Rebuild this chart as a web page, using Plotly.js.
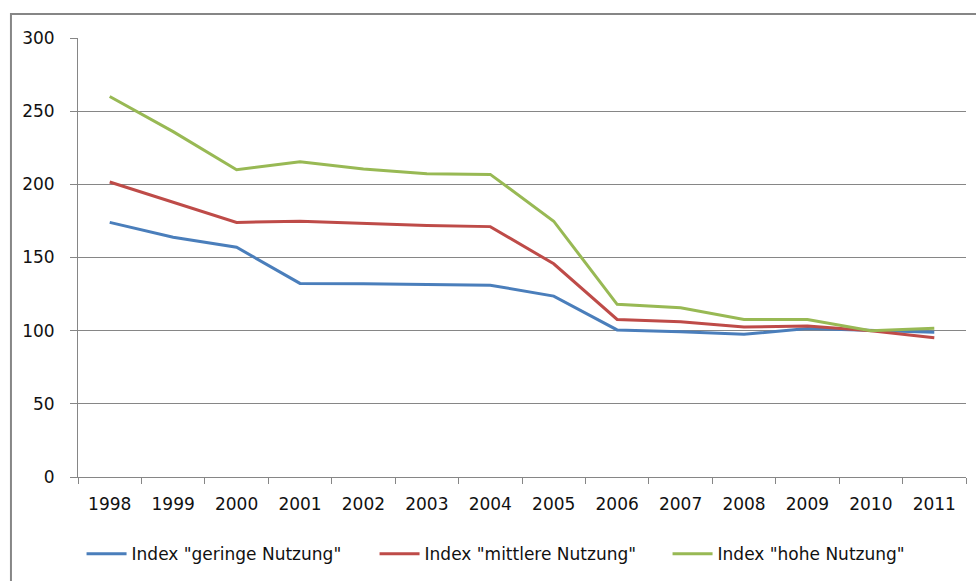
<!DOCTYPE html>
<html>
<head>
<meta charset="utf-8">
<script src="https://cdn.plot.ly/plotly-3.0.1.min.js"></script>
<style>
  html, body { margin: 0; padding: 0; background: #fff; }
  #chart { width: 976px; height: 581px; }
</style>
</head>
<body>
<div id="chart"></div>
<script>
// Data
const years = ["1998","1999","2000","2001","2002","2003","2004","2005","2006","2007","2008","2009","2010","2011"];
const indexGering   = [174, 163.8, 157, 132.3, 132, 131.6, 131.1, 123.6, 100.5, 99.3, 97.5, 101.4, 100, 99];
const indexMittlere = [201.6, 187.7, 174, 174.8, 173.2, 171.8, 171.1, 145.7, 107.7, 106.1, 102.5, 103.2, 100, 95.2];
const indexHohe     = [260, 236, 210, 215.5, 210.5, 207.3, 206.8, 174.8, 118, 115.7, 107.7, 107.7, 100, 101.6];
const seriesNames = ['Index "geringe Nutzung"', 'Index "mittlere Nutzung"', 'Index "hohe Nutzung"'];
const yTicks = [0, 50, 100, 150, 200, 250, 300];

const colors = ["#4a7ebb", "#be4b48", "#98b954"];
const values = [indexGering, indexMittlere, indexHohe];

const traces = values.map((v, i) => ({
  type: "scatter",
  mode: "lines",
  x: years,
  y: v,
  name: seriesNames[i],
  line: { color: colors[i], width: 3 },
  hoverinfo: "x+y+name"
}));

const FONT = "'DejaVu Sans', sans-serif";
const gray = "#868686";

const layout = {
  width: 976,
  height: 581,
  margin: { l: 78, r: 10, t: 38, b: 103 },
  paper_bgcolor: "#ffffff",
  plot_bgcolor: "#ffffff",
  font: { family: FONT, size: 17, color: "#111111" },
  showlegend: true,
  legend: {
    orientation: "h",
    x: 0.004, xanchor: "left",
    y: -0.173, yanchor: "middle",
    font: { family: FONT, size: 17, color: "#111111" },
    entrywidth: 238,
    itemwidth: 40
  },
  xaxis: {
    type: "category",
    tickson: "boundaries",
    ticks: "outside",
    ticklen: 6,
    tickcolor: gray,
    tickwidth: 1,
    showline: true,
    linecolor: gray,
    linewidth: 1,
    showgrid: false,
    ticklabelstandoff: 12,
    tickfont: { family: FONT, size: 17, color: "#111111" },
    range: [-0.5, years.length - 0.5]
  },
  yaxis: {
    range: [0, 300],
    tickvals: yTicks,
    ticks: "outside",
    ticklen: 7,
    tickcolor: gray,
    showline: true,
    linecolor: gray,
    linewidth: 1,
    showgrid: true,
    gridcolor: gray,
    gridwidth: 1,
    zeroline: false,
    ticklabelstandoff: 12,
    tickfont: { family: FONT, size: 17, color: "#111111" }
  },
  shapes: [{
    type: "path",
    xref: "paper", yref: "paper",
    path: "M -0.0755,-0.4 L -0.0755,1.0545 L 1.2,1.0545",
    line: { color: gray, width: 2 }
  }]
};

Plotly.newPlot("chart", traces, layout, { displayModeBar: false });
</script>
</body>
</html>
